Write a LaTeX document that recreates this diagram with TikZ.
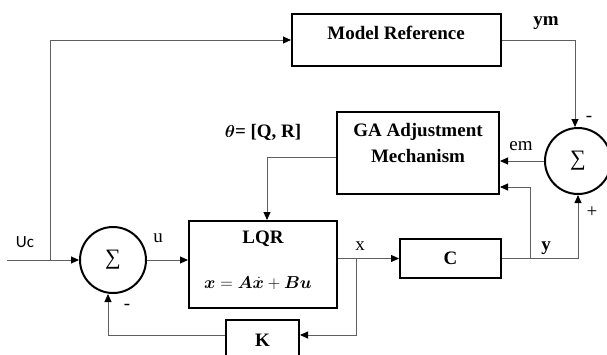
\documentclass[tikz,border=0pt]{standalone}
\usepackage{fontspec}
\setmainfont{Liberation Serif}
\newfontfamily\uifont{Carlito}
\usepackage{amsmath,bm}
\usetikzlibrary{arrows.meta,calc}
\definecolor{linegray}{RGB}{95,95,95}
\begin{document}
\begin{tikzpicture}[x=1pt,y=-1pt,
  font=\fontsize{19}{23}\selectfont,
  bf/.style={font=\fontsize{19}{26}\selectfont\bfseries},
  box/.style={draw=black,line width=2pt,inner sep=0pt},
  sumnode/.style={circle,draw=black,line width=2pt,minimum size=66pt,inner sep=0pt,font=\fontsize{22}{22}\selectfont},
  conn/.style={draw=linegray,line width=0.9pt},
  arr/.style={conn,-{Triangle[length=8pt,width=7pt,color=black]}},
  lbl/.style={inner sep=0pt}]
\useasboundingbox (0,0) rectangle (607,354);
% blocks
\node[box,minimum width=209pt,minimum height=52pt] (mr) at (396.5,40) {};
\node[lbl,bf] (mrt) at (396,33) {Model Reference};
\node[box,minimum width=162pt,minimum height=82pt] (ga) at (418,153) {};
\node[lbl,bf,align=center] (gat) at (418,143) {GA Adjustment\\Mechanism};
\node[box,minimum width=148pt,minimum height=87pt] (lqr) at (263,264.5) {};
\node[lbl,bf] (lqrt) at (263,239) {LQR};
\node[lbl] (eq) at (258,283) {$\bm{x} = \bm{A}\dot{\bm{x}} + \bm{B}\bm{u}$};
\node[box,bf,minimum width=101pt,minimum height=39pt] (c) at (450.5,258.5) {C};
\node[box,minimum width=73pt,minimum height=44pt] (k) at (262.5,342) {};
\node[lbl,bf] (kt) at (262.5,340) {K};
\node[sumnode] (s1) at (113,260) {∑};
\node[sumnode] (s2) at (578,161) {∑};
% connectors
\coordinate (in) at (7,260);
\coordinate (br) at (50,260);
\coordinate (xb) at (356,258.5);
\coordinate (yb) at (530,258.5);
\draw[arr] (in) -- (s1.west);
\draw[arr] (br) |- (mr.west);
\draw[arr] (s1.east) -- (s1.east -| lqr.west);
\draw[arr] (c.west -| lqr.east) -- (c.west);
\draw[arr] (xb) |- ([yshift=7pt]k.east);
\draw[arr] ([yshift=7pt]k.west) -| ([xshift=-5pt]s1.south);
\draw[arr] (c.east) -| (s2.south);
\draw[arr] (yb) |- ([yshift=-34pt]ga.east);
\draw[arr] (mr.east) -| ([xshift=-3pt]s2.north);
\draw[arr] (s2.west) -- (s2.west -| ga.east);
\draw[arr] ([yshift=-4pt]ga.west) -| ([xshift=4pt]lqr.north);
% labels
\node[lbl,font=\uifont\fontsize{17}{20}\selectfont] (uc) at (25,242) {Uc};
\node[lbl] (ul) at (158,238) {u};
\node[lbl] (xl) at (360,246) {x};
\node[lbl,bf] (theta) at (263,132) {$\bm{\theta}$= [Q, R]};
\node[lbl,bf] (yml) at (546,23) {ym};
\node[lbl] (eml) at (521,146) {em};
\node[lbl] (yl) at (546,248) {\bfseries y};
\node[lbl] (m1) at (589,119) {-};
\node[lbl] (m2) at (127,307) {-};
\node[lbl] (p1) at (592,212) {+};
\end{tikzpicture}
\end{document}
